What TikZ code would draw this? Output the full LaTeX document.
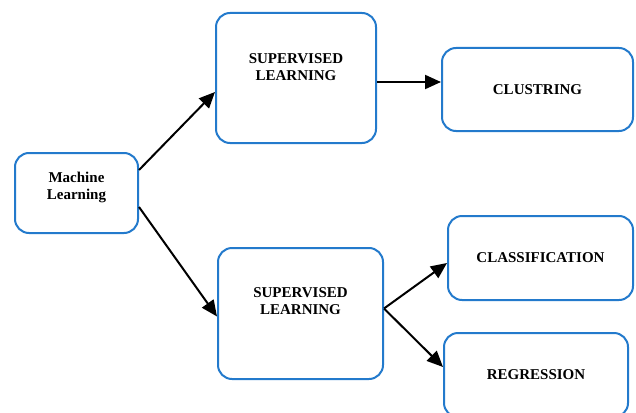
\documentclass[tikz,border=0pt]{standalone}
\usepackage{fontspec}
\setmainfont{Liberation Serif}
\usetikzlibrary{arrows.meta}
\definecolor{boxblue}{RGB}{35,122,204}
\tikzset{mlbox/.style={draw=boxblue,line width=2pt,rounded corners=14pt,fill=white,
           align=center,font=\fontsize{15}{17}\selectfont\bfseries},
         mltxt/.style={align=center,font=\fontsize{15}{17}\selectfont\bfseries},
         mlarrow/.style={line width=2pt,-{Triangle[length=16pt,width=14pt]}}}

\begin{document}
\begin{tikzpicture}[x=1pt,y=-1pt]
    \clip (0,0) rectangle (636,412);
    \useasboundingbox (0,0) rectangle (636,412);
    % boxes
    \node[mlbox,minimum width=123pt,minimum height=80pt] (ml) at (76.5,193) {};
    \node[mltxt] (mltext) at (76.5,187) {Machine\\Learning};
    \node[mlbox,minimum width=160pt,minimum height=130pt] (supA) at (296,78) {};
    \node[mltxt] (supAtext) at (296,67.5) {SUPERVISED\\LEARNING};
    \node[mlbox,minimum width=165pt,minimum height=131pt] (supB) at (300.5,313.5) {};
    \node[mltxt] (supBtext) at (300.5,301.5) {SUPERVISED\\LEARNING};
    \node[mlbox,minimum width=191pt,minimum height=83pt] (clu) at (537.5,89.5) {CLUSTRING};
    \node[mlbox,minimum width=185pt,minimum height=84pt] (cls) at (540.5,258) {CLASSIFICATION};
    \node[mlbox,minimum width=184pt,minimum height=84pt] (reg) at (536,375) {REGRESSION};
    % arrows
    \draw[mlarrow] ([yshift=23pt]ml.east) -- ([yshift=-14pt]supA.west);
    \draw[mlarrow] ([yshift=-14pt]ml.east) -- ([yshift=-3pt]supB.west);
    \draw[mlarrow] ([yshift=-4pt]supA.east) -- ([yshift=-4pt]supA.east -| clu.west);
    \draw[mlarrow] ([yshift=5pt]supB.east) -- ([yshift=-5pt]cls.west);
    \draw[mlarrow] ([yshift=5pt]supB.east) -- ([yshift=8pt]reg.west);
\end{tikzpicture}
\end{document}
